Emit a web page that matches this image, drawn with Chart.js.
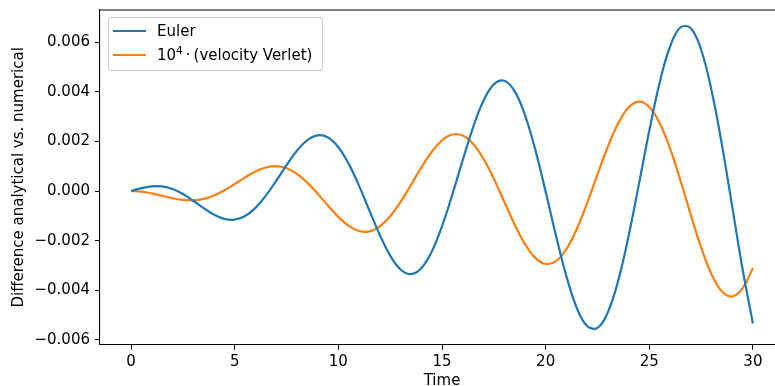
<!DOCTYPE html>
<html>
<head>
<meta charset="utf-8">
<script src="https://cdn.jsdelivr.net/npm/chart.js@4.4.0/dist/chart.umd.min.js"></script>
<style>
    html, body { margin: 0; padding: 0; background: #fff; overflow: hidden; }
    #wrap { position: relative; width: 800px; height: 392px; }
    #legend {
        position: absolute; left: 108px; top: 17px; width: 215px; height: 54px;
        box-sizing: border-box; border: 1px solid #cccccc; border-radius: 3px;
        background: rgba(255, 255, 255, 0.8);
        font-family: "DejaVu Sans"; font-size: 15px; color: #000;
    }
    .swatch { position: absolute; left: 4px; width: 33px; height: 2px; }
    .label { position: absolute; left: 48px; line-height: 18px; white-space: nowrap; }
    .label sup { font-size: 10.5px; line-height: 0; vertical-align: 6px; }
</style>
</head>
<body>
<div id="wrap">
    <canvas id="diffChart" width="800" height="392"></canvas>
    <div id="legend"></div>
</div>
<script>
// tempi di campionamento
const timeValues = [
    0, 0.5, 1, 1.5, 2, 2.5, 3, 3.5, 4, 4.5, 5, 5.5, 6, 6.5, 7, 7.5, 8, 8.5, 9, 9.5,
    10, 10.5, 11, 11.5, 12, 12.5, 13, 13.5, 14, 14.5, 15, 15.5, 16, 16.5, 17, 17.5, 18, 18.5, 19, 19.5,
    20, 20.5, 21, 21.5, 22, 22.5, 23, 23.5, 24, 24.5, 25, 25.5, 26, 26.5, 27, 27.5, 28, 28.5, 29, 29.5, 30
];

// differenza analitica - Euler
const eulerDiff = [
    0, 0.000117, 0.000190, 0.000184, 0.000078, -0.000122, -0.000392, -0.000688, -0.000951, -0.001124, -0.001154,
    -0.001008, -0.000679, -0.000189, 0.000412, 0.001045, 0.001620, 0.002046, 0.002243, 0.002155, 0.001764,
    0.001092, 0.000208, -0.000789, -0.001770, -0.002602, -0.003162, -0.003350, -0.003113, -0.002451, -0.001421,
    -0.000137, 0.001245, 0.002567, 0.003633, 0.004295, 0.004442, 0.004025, 0.003068, 0.001666, -0.000025,
    -0.001797, -0.003426, -0.004702, -0.005437, -0.005511, -0.004886, -0.003610, -0.001822, 0.000277, 0.002426,
    0.004357, 0.005810, 0.006584, 0.006553, 0.005690, 0.004072, 0.001887, -0.000621, -0.003140, -0.005339
];

// differenza analitica - velocity Verlet (gia' moltiplicata per 10^4)
const verletDiff = [
    0, -0.000025, -0.000095, -0.000192, -0.000290, -0.000360, -0.000376, -0.000318, -0.000181, 0.000027, 0.000282,
    0.000550, 0.000787, 0.000949, 0.001000, 0.000916, 0.000689, 0.000337, -0.000107, -0.000588, -0.001042,
    -0.001404, -0.001612, -0.001626, -0.001424, -0.001018, -0.000441, 0.000240, 0.000941, 0.001570, 0.002041,
    0.002277, 0.002235, 0.001899, 0.001297, 0.000491, -0.000426, -0.001340, -0.002132, -0.002694, -0.002940,
    -0.002822, -0.002339, -0.001531, -0.000489, 0.000663, 0.001783, 0.002726, 0.003361, 0.003598, 0.003387,
    0.002737, 0.001713, 0.000433, -0.000952, -0.002268, -0.003348, -0.004040, -0.004247, -0.003924, -0.003098
];

const seriesLabels = ["Euler", "10<sup>4</sup>\u2009·\u2009(velocity Verlet)"];
const seriesColors = ["#1f77b4", "#ff7f0e"];

const xTicks = [0, 5, 10, 15, 20, 25, 30];
const yTicks = [-0.006, -0.004, -0.002, 0, 0.002, 0.004, 0.006];

const FONT = { family: "DejaVu Sans", size: 15 };

// cornice superiore e destra (spine di matplotlib)
const framePlugin = {
    id: "frame",
    afterDraw(chart) {
        const a = chart.chartArea;
        const ctx = chart.ctx;
        ctx.save();
        ctx.strokeStyle = "#000";
        ctx.lineWidth = 1.1;
        ctx.beginPath();
        ctx.moveTo(a.left, a.top);
        ctx.lineTo(a.right, a.top);
        ctx.lineTo(a.right, a.bottom);
        ctx.stroke();
        ctx.restore();
    }
};

function toPoints(values) {
    return timeValues.map((t, i) => ({ x: t, y: values[i] }));
}

const ctx = document.getElementById("diffChart").getContext("2d");
new Chart(ctx, {
    type: "line",
    data: {
        datasets: [
            { label: "Euler", data: toPoints(eulerDiff), borderColor: seriesColors[0] },
            { label: "Verlet", data: toPoints(verletDiff), borderColor: seriesColors[1] }
        ]
    },
    options: {
        responsive: false,
        animation: false,
        layout: { padding: { top: 10, right: 16, left: 0, bottom: 0 } },
        elements: {
            point: { radius: 0 },
            line: { borderWidth: 2.2, tension: 0.4, fill: false }
        },
        plugins: { legend: { display: false }, tooltip: { enabled: false } },
        scales: {
            x: {
                type: "linear",
                min: -1.5,
                max: 31.5,
                afterBuildTicks: s => { s.ticks = xTicks.map(v => ({ value: v })); },
                afterFit: s => { s.height = 47.3; s.paddingLeft = 0; s.paddingRight = 0; },
                ticks: { font: FONT, color: "#000", padding: 3, maxRotation: 0 },
                grid: { drawOnChartArea: false, tickLength: 5, color: "#000", lineWidth: 1 },
                border: { color: "#000", width: 1.1 },
                title: { display: true, text: "Time", font: FONT, color: "#000", padding: { top: 0, bottom: 2 } }
            },
            y: {
                min: -0.00619,
                max: 0.00729,
                afterBuildTicks: s => { s.ticks = yTicks.map(v => ({ value: v })); },
                afterFit: s => { s.width = 100; s.paddingTop = 0; s.paddingBottom = 0; },
                ticks: {
                    font: FONT, color: "#000", padding: 5,
                    callback: v => (v < 0 ? "\u2212" : "") + Math.abs(v).toFixed(3)
                },
                grid: { drawOnChartArea: false, tickLength: 5, color: "#000", lineWidth: 1 },
                border: { color: "#000", width: 1.1 },
                title: {
                    display: true, text: "Difference analytical vs. numerical",
                    font: FONT, color: "#000", padding: { top: 10, bottom: 0 }
                }
            }
        }
    },
    plugins: [framePlugin]
});

// legenda personalizzata
const legend = document.getElementById("legend");
seriesLabels.forEach((label, i) => {
    legend.insertAdjacentHTML("beforeend",
        `<div class="swatch" style="top:${12 + i * 24.3}px;background:${seriesColors[i]}"></div>` +
        `<div class="label" style="top:${3.5 + i * 24.3}px">${label}</div>`);
});
</script>
</body>
</html>
